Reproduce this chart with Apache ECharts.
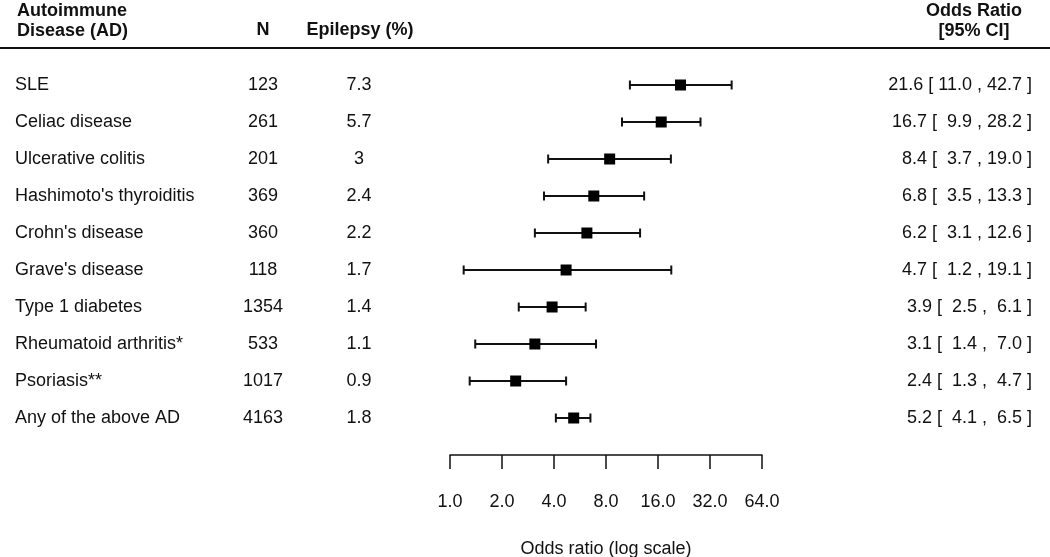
<!DOCTYPE html>
<html>
<head>
<meta charset="utf-8">
<script src="https://cdn.jsdelivr.net/npm/echarts@6/dist/echarts.min.js"></script>
<style>html,body{margin:0;padding:0;background:#fff;}#c{width:1050px;height:557px;}</style>
</head>
<body>
<div id="c"></div>
<script>
const diseases = ["SLE", "Celiac disease", "Ulcerative colitis", "Hashimoto's thyroiditis", "Crohn's disease", "Grave's disease", "Type 1 diabetes", "Rheumatoid arthritis*", "Psoriasis**", "Any of the above AD"];
const nValues = [123, 261, 201, 369, 360, 118, 1354, 533, 1017, 4163];
const epilepsyPct = ["7.3", "5.7", "3", "2.4", "2.2", "1.7", "1.4", "1.1", "0.9", "1.8"];
const oddsRatio = [21.6, 16.7, 8.4, 6.8, 6.2, 4.7, 3.9, 3.1, 2.4, 5.2];
const ciLower = [11.0, 9.9, 3.7, 3.5, 3.1, 1.2, 2.5, 1.4, 1.3, 4.1];
const ciUpper = [42.7, 28.2, 19.0, 13.3, 12.6, 19.1, 6.1, 7.0, 4.7, 6.5];
const xTicks = [1, 2, 4, 8, 16, 32, 64];

const FONT = "'Liberation Sans', Arial, sans-serif";
function pad(v) { const s = v.toFixed(1); return s.length < 4 ? ' ' + s : s; }
const orText = oddsRatio.map((o, i) => o.toFixed(1) + ' [ ' + pad(ciLower[i]) + ' , ' + pad(ciUpper[i]) + ' ]');

const chart = echarts.init(document.getElementById('c'), null, { renderer: 'canvas' });
const baseY = {
  type: 'category', data: diseases, inverse: true,
  axisLine: { show: false }, axisTick: { show: false }, splitLine: { show: false }
};
const lbl = { fontFamily: FONT, fontSize: 18, color: '#111', interval: 0 };

const option = {
  animation: false,
  backgroundColor: '#fff',
  grid: { left: 450, right: 288, top: 66.5, height: 370, outerBoundsMode: 'none', containLabel: false },
  xAxis: {
    type: 'log', logBase: 2, min: xTicks[0], max: xTicks[xTicks.length - 1], interval: 1,
    position: 'bottom', offset: 18.5,
    axisLine: { show: true, lineStyle: { color: '#111', width: 1.5 } },
    axisTick: { show: true, length: 14, lineStyle: { color: '#111', width: 1.5 } },
    splitLine: { show: false },
    axisLabel: { margin: 38, fontFamily: FONT, fontSize: 18, color: '#111', formatter: v => Number(v).toFixed(1) },
    name: 'Odds ratio (log scale)', nameLocation: 'middle', nameGap: 85,
    nameTextStyle: { fontFamily: FONT, fontSize: 18, color: '#111' }
  },
  yAxis: [
    Object.assign({}, baseY, { position: 'left', axisLabel: Object.assign({}, lbl, { align: 'left', margin: 435 }) }),
    Object.assign({}, baseY, { position: 'left', axisLabel: Object.assign({}, lbl, { align: 'center', margin: 187, formatter: (v, i) => String(nValues[i]) }) }),
    Object.assign({}, baseY, { position: 'left', axisLabel: Object.assign({}, lbl, { align: 'center', margin: 91, formatter: (v, i) => epilepsyPct[i] }) }),
    Object.assign({}, baseY, { position: 'right', axisLabel: Object.assign({}, lbl, { align: 'right', margin: 270, formatter: (v, i) => orText[i] }) })
  ],
  graphic: [
    { type: 'line', shape: { x1: 0, y1: 48, x2: 1050, y2: 48 }, style: { stroke: '#111', lineWidth: 2 } },
    { type: 'text', left: 17, top: 1, style: { text: 'Autoimmune\nDisease (AD)', font: "bold 18px " + FONT, fill: '#111', lineHeight: 20 } },
    { type: 'text', x: 263, y: 30, style: { text: 'N', font: "bold 18px " + FONT, fill: '#111', align: 'center', verticalAlign: 'middle' } },
    { type: 'text', x: 360, y: 30, style: { text: 'Epilepsy (%)', font: "bold 18px " + FONT, fill: '#111', align: 'center', verticalAlign: 'middle' } },
    { type: 'text', x: 974, y: 1, style: { text: 'Odds Ratio\n[95% CI]', font: "bold 18px " + FONT, fill: '#111', align: 'center', lineHeight: 20 } }
  ],
  series: [
    {
      type: 'custom', xAxisIndex: 0, yAxisIndex: 0,
      data: diseases.map((d, i) => [ciLower[i], ciUpper[i], i]),
      encode: { x: [0, 1], y: 2 },
      renderItem: function (params, api) {
        const y = api.value(2);
        const p1 = api.coord([api.value(0), y]);
        const p2 = api.coord([api.value(1), y]);
        const h = 4.5;
        const st = { stroke: '#111', lineWidth: 2 };
        return {
          type: 'group', children: [
            { type: 'line', shape: { x1: p1[0], y1: p1[1], x2: p2[0], y2: p2[1] }, style: st },
            { type: 'line', shape: { x1: p1[0], y1: p1[1] - h, x2: p1[0], y2: p1[1] + h }, style: st },
            { type: 'line', shape: { x1: p2[0], y1: p2[1] - h, x2: p2[0], y2: p2[1] + h }, style: st }
          ]
        };
      },
      z: 2
    },
    {
      type: 'scatter', xAxisIndex: 0, yAxisIndex: 0,
      data: diseases.map((d, i) => [oddsRatio[i], i]),
      symbol: 'rect', symbolSize: 11,
      itemStyle: { color: '#000', opacity: 1 },
      z: 3
    }
  ]
};
chart.setOption(option);
</script>
</body>
</html>
